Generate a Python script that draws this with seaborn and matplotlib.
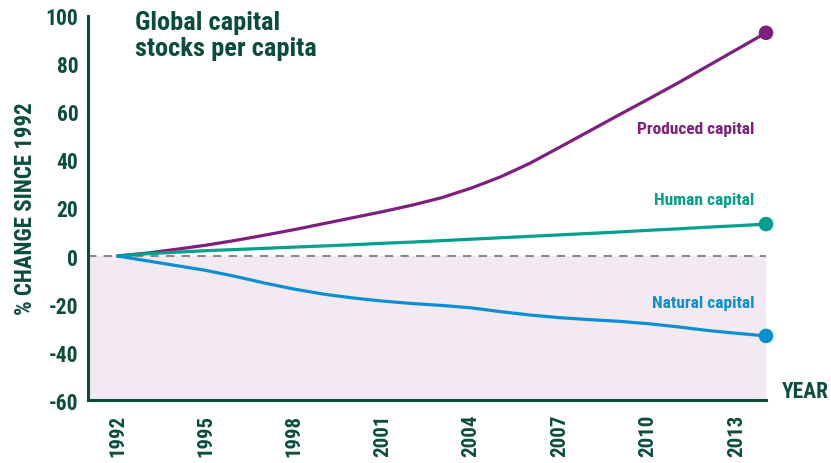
import matplotlib
matplotlib.use("Agg")
import matplotlib.pyplot as plt
from matplotlib import font_manager
from matplotlib.ticker import MultipleLocator, FixedLocator
import seaborn as sns
import pandas as pd

years = list(range(1992, 2015))
produced = [0, 1.2, 2.8, 4.5, 6.5, 8.7, 11, 13.5, 16, 18.5, 21.2, 24.3, 28.3,
            33, 38.7, 45.3, 52, 58.7, 65.3, 72, 79, 86, 93]
human = [0, 0.9, 1.6, 2.2, 2.7, 3.2, 3.7, 4.2, 4.7, 5.3, 5.8, 6.4, 7.0,
         7.6, 8.2, 8.8, 9.4, 10.0, 10.7, 11.3, 12.0, 12.6, 13.3]
natural = [0, -2, -4, -6, -8.5, -11.3, -13.8, -15.9, -17.5, -18.8, -19.8, -20.6,
           -21.6, -23.2, -24.6, -25.7, -26.5, -27.2, -28.2, -29.5, -31, -32.2, -33.3]
series_names = ["Produced capital", "Human capital", "Natural capital"]
year_ticks = [1992, 1995, 1998, 2001, 2004, 2007, 2010, 2013]
value_ticks = [-60, -40, -20, 0, 20, 40, 60, 80, 100]

sns.set_theme(style="white")

# pick a narrow bold face if one is available
available = {f.name for f in font_manager.fontManager.ttflist}
narrow = None
for cand in ["Liberation Sans Narrow", "Roboto Condensed", "Open Sans Condensed",
             "Noto Sans Condensed", "Arial Narrow"]:
    if cand in available:
        narrow = cand
        break
if narrow:
    plt.rcParams["font.family"] = [narrow, "DejaVu Sans"]
else:
    plt.rcParams["font.family"] = ["DejaVu Sans"]
    plt.rcParams["font.stretch"] = "condensed"
plt.rcParams["axes.unicode_minus"] = False

dark = "#0b4d3c"
colors = {"Produced capital": "#7d1f7c",
          "Human capital": "#00a08c",
          "Natural capital": "#0a8fd0"}

df = pd.DataFrame({
    "year": years * 3,
    "value": produced + human + natural,
    "series": sum([[n] * len(years) for n in series_names], []),
})
ends = df[df["year"] == years[-1]]

fig = plt.figure(figsize=(8.31, 4.64), dpi=100)
ax = fig.add_axes([88 / 831, 1 - 401 / 464, (766 - 88) / 831, (401 - 17) / 464])

ax.axhspan(-60, 0, color="#f2e9f1", zorder=0, lw=0)
ax.axhline(0, color="#8a8a8a", lw=1.5, dashes=(4, 3.5), zorder=1)

sns.lineplot(data=df, x="year", y="value", hue="series", palette=colors,
             linewidth=2.3, legend=False, ax=ax, zorder=3,
             solid_joinstyle="round", solid_capstyle="round")
sns.scatterplot(data=ends, x="year", y="value", hue="series", palette=colors,
                s=110, edgecolor="none", legend=False, ax=ax, zorder=4,
                clip_on=False)

ax.set_xlim(1991, 2014)
ax.set_ylim(-60, 100)
ax.set_xlabel("")
ax.set_ylabel("% CHANGE SINCE 1992", fontsize=16.5, fontweight="bold",
              color=dark, labelpad=6)

for s in ["top", "right"]:
    ax.spines[s].set_visible(False)
for s in ["left", "bottom"]:
    ax.spines[s].set_color(dark)
    ax.spines[s].set_linewidth(2.2)

ax.xaxis.set_major_locator(FixedLocator(year_ticks))
ax.xaxis.set_minor_locator(MultipleLocator(1))
ax.yaxis.set_major_locator(FixedLocator(value_ticks))
ax.tick_params(axis="x", which="major", direction="in", length=15, width=1.8,
               color=dark, labelsize=15, labelcolor=dark, pad=10,
               labelrotation=90)
ax.tick_params(axis="x", which="minor", direction="in", length=8, width=1.8,
               color=dark)
ax.tick_params(axis="y", which="major", direction="in", length=11.5, width=1.8,
               color=dark, labelsize=15.5, labelcolor=dark, pad=7)
ax.set_xticklabels([str(y) for y in year_ticks], fontweight="bold")
ax.set_yticklabels([str(v) for v in value_ticks], fontweight="bold")

# series labels, right-aligned near the end of each line
label_y = {"Produced capital": 53, "Human capital": 23.5, "Natural capital": -19.5}
for name in series_names:
    ax.text(2013.6, label_y[name], name, ha="right", va="center",
            fontsize=12.5, fontweight="bold", color=colors[name])

fig.text(135 / 831, 1 - 11 / 464, "Global capital\nstocks per capita",
         ha="left", va="top", fontsize=19, fontweight="bold", color=dark,
         linespacing=1.1)
fig.text(782 / 831, 1 - 392 / 464, "YEAR", ha="left", va="center",
         fontsize=15.5, fontweight="bold", color=dark)

fig.savefig("out.png", dpi=100)
